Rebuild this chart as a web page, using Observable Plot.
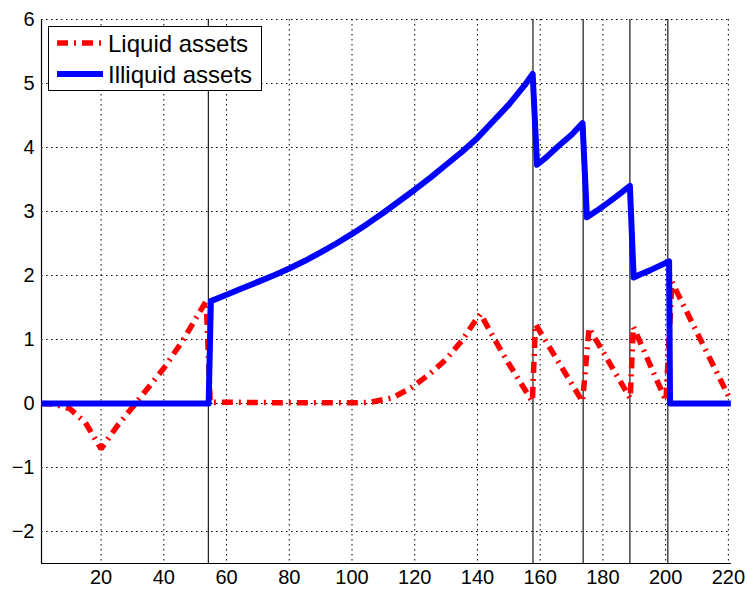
<!DOCTYPE html>
<html><head><meta charset="utf-8">
<script src="https://cdn.jsdelivr.net/npm/d3@7"></script>
<script src="https://cdn.jsdelivr.net/npm/@observablehq/plot@0.6"></script>
<style>
body{margin:0;background:#fff;}
#wrap{position:relative;width:747px;height:589px;}
</style></head><body><div id="wrap"></div>
<script>
const xTicks = [20, 40, 60, 80, 100, 120, 140, 160, 180, 200, 220];
const yTicks = [-2, -1, 0, 1, 2, 3, 4, 5, 6];
const boundaries = [54.2, 157.7, 173.7, 188.6, 200.7];

const liquidX = [1, 5, 10, 15, 20, 25, 31, 40, 46, 53.5, 54.8, 60, 80, 100, 106, 113, 119, 125, 130, 135, 139, 141, 145, 150, 157.5, 158.5, 173.5, 175.6, 188.7, 189.7, 200.1, 202, 220.2];
const liquidY = [0, -0.01, -0.08, -0.3, -0.71, -0.36, 0, 0.55, 0.98, 1.6, 0.02, 0.02, 0.01, 0.01, 0.02, 0.09, 0.25, 0.47, 0.69, 0.98, 1.27, 1.4, 1.04, 0.62, 0.03, 1.24, 0.03, 1.18, 0.08, 1.2, 0.04, 1.9, 0.1];

const illiquidX = [1, 54.3, 55, 60, 65, 70, 75, 80, 85, 90, 95, 100, 105, 110, 115, 120, 125, 130, 135, 140, 145, 150, 155, 157.6, 159, 162, 166, 170, 173.5, 174.9, 178, 182, 186, 188.6, 189.8, 192, 195, 198, 201.1, 201.4, 220.8];
const illiquidY = [0, 0, 1.6, 1.7, 1.8, 1.9, 2.0, 2.11, 2.23, 2.36, 2.5, 2.65, 2.81, 2.98, 3.16, 3.34, 3.53, 3.73, 3.93, 4.15, 4.41, 4.67, 4.97, 5.15, 3.73, 3.85, 4.03, 4.2, 4.38, 2.91, 3.01, 3.15, 3.3, 3.4, 1.97, 2.02, 2.08, 2.15, 2.22, 0, 0];

const seriesNames = ["Liquid assets", "Illiquid assets"];
const seriesColors = ["#ff0000", "#0000ff"];

const liquid = liquidX.map((x, i) => ({x, y: liquidY[i]}));
const illiquid = illiquidX.map((x, i) => ({x, y: illiquidY[i]}));

const font = "'Liberation Sans', Arial, Helvetica, sans-serif";
const gridStyle = {stroke: "#000", strokeWidth: 1, strokeDasharray: "1.5,3.5"};

const chart = Plot.plot({
  width: 747, height: 589,
  marginLeft: 41, marginRight: 16, marginTop: 19, marginBottom: 26,
  x: {domain: [1, 221], label: null},
  y: {domain: [-2.5, 6], label: null},
  style: {fontFamily: font, fontSize: "20px", color: "#000", background: "#fff", overflow: "visible"},
  marks: [
    Plot.ruleX(xTicks, gridStyle),
    Plot.ruleY(yTicks, gridStyle),
    Plot.ruleX(boundaries, {stroke: "#1a1a1a", strokeWidth: 1.2}),
    Plot.ruleX([1], {stroke: "#000", strokeWidth: 1.2}),
    Plot.ruleY([-2.5], {stroke: "#000", strokeWidth: 1.2}),
    Plot.axisX({ticks: xTicks, tickSize: 0, tickPadding: 6, label: null}),
    Plot.axisY({ticks: yTicks, tickSize: 0, tickPadding: 7, label: null}),
    Plot.line(liquid, {x: "x", y: "y", stroke: seriesColors[0], strokeWidth: 5.5, strokeDasharray: "11,6,2,6", strokeLinecap: "butt", strokeLinejoin: "miter"}),
    Plot.line(illiquid, {x: "x", y: "y", stroke: seriesColors[1], strokeWidth: 6, strokeLinejoin: "round", strokeLinecap: "butt"})
  ]
});

const wrap = document.getElementById("wrap");
wrap.appendChild(chart);

// legend overlay
const ns = "http://www.w3.org/2000/svg";
const leg = document.createElementNS(ns, "svg");
leg.setAttribute("width", 215);
leg.setAttribute("height", 66);
leg.style.position = "absolute";
leg.style.left = "48px";
leg.style.top = "26px";
const rect = document.createElementNS(ns, "rect");
rect.setAttribute("x", 0.5); rect.setAttribute("y", 0.5);
rect.setAttribute("width", 213); rect.setAttribute("height", 64);
rect.setAttribute("fill", "#fff"); rect.setAttribute("stroke", "#000");
leg.appendChild(rect);
seriesNames.forEach((name, i) => {
  const cy = 17 + i * 31;
  const ln = document.createElementNS(ns, "line");
  ln.setAttribute("x1", 9); ln.setAttribute("x2", 55);
  ln.setAttribute("y1", cy); ln.setAttribute("y2", cy);
  ln.setAttribute("stroke", seriesColors[i]);
  ln.setAttribute("stroke-width", i === 0 ? 5.5 : 6);
  if (i === 0) ln.setAttribute("stroke-dasharray", "11,6,2,6");
  leg.appendChild(ln);
  const t = document.createElementNS(ns, "text");
  t.setAttribute("x", 60); t.setAttribute("y", cy);
  t.setAttribute("dominant-baseline", "central");
  t.setAttribute("font-family", font);
  t.setAttribute("font-size", "24px");
  t.setAttribute("fill", "#000");
  t.textContent = name;
  leg.appendChild(t);
});
wrap.appendChild(leg);
</script>
</body></html>
